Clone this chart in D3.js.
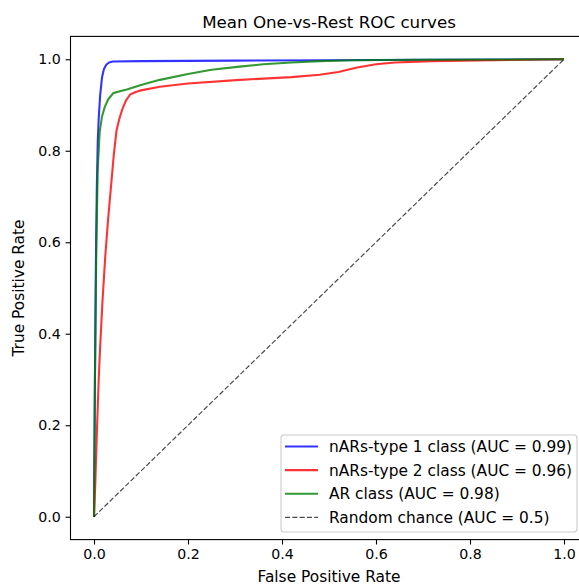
<!DOCTYPE html>
<meta charset="utf-8">
<script src="https://d3js.org/d3.v7.min.js"></script>
<style>
    body { margin: 0; background: white; }
    text { font-family: "DejaVu Sans", sans-serif; fill: black; }
</style>
<div id="my_dataviz"></div>
<script>
    // ---------------------------//
    //       DATA                 //
    // ---------------------------//
    var blueFpr = [0, 0.002, 0.004, 0.006, 0.008, 0.01, 0.013, 0.017, 0.021, 0.026, 0.032, 0.04, 0.1, 0.3, 0.5, 0.7, 1.0]
    var blueTpr = [0, 0.30, 0.55, 0.72, 0.82, 0.87, 0.92, 0.96, 0.978, 0.988, 0.993, 0.995, 0.996, 0.997, 0.998, 0.999, 1.0]

    var redFpr = [0, 0.003, 0.006, 0.01, 0.013, 0.018, 0.024, 0.03, 0.036, 0.042, 0.048, 0.054, 0.06, 0.068, 0.077, 0.09, 0.1, 0.14, 0.2, 0.31, 0.42, 0.48, 0.52, 0.56, 0.6, 0.64, 0.72, 0.85, 1.0]
    var redTpr = [0, 0.08, 0.18, 0.3, 0.37, 0.47, 0.57, 0.65, 0.72, 0.79, 0.845, 0.87, 0.89, 0.91, 0.923, 0.929, 0.932, 0.94, 0.947, 0.955, 0.961, 0.966, 0.972, 0.982, 0.989, 0.993, 0.996, 0.998, 1.0]

    var greenFpr = [0, 0.002, 0.005, 0.008, 0.012, 0.017, 0.023, 0.03, 0.041, 0.055, 0.07, 0.1, 0.14, 0.2, 0.25, 0.31, 0.36, 0.42, 0.48, 0.55, 0.7, 1.0]
    var greenTpr = [0, 0.3, 0.6, 0.76, 0.84, 0.875, 0.896, 0.912, 0.926, 0.93, 0.934, 0.944, 0.955, 0.968, 0.977, 0.984, 0.989, 0.993, 0.996, 0.998, 0.999, 1.0]

    var chanceFpr = [0, 1]
    var chanceTpr = [0, 1]

    var seriesNames = ["nARs-type 1 class (AUC = 0.99)", "nARs-type 2 class (AUC = 0.96)", "AR class (AUC = 0.98)", "Random chance (AUC = 0.5)"]
    var tickValues = [0.0, 0.2, 0.4, 0.6, 0.8, 1.0]

    // ---------------------------//
    //       LAYOUT               //
    // ---------------------------//
    var W = 579, H = 586
    var margin = { left: 70.5, right: 587.5, top: 36.4, bottom: 539.6 }

    var svg = d3.select("#my_dataviz")
        .append("svg")
        .attr("width", W)
        .attr("height", H)

    var x = d3.scaleLinear().domain([-0.05, 1.05]).range([margin.left, margin.right])
    var y = d3.scaleLinear().domain([-0.05, 1.05]).range([margin.bottom, margin.top])

    svg.append("clipPath").attr("id", "clip")
        .append("rect")
        .attr("x", margin.left).attr("y", margin.top)
        .attr("width", margin.right - margin.left).attr("height", margin.bottom - margin.top)

    // ---------------------------//
    //       AXES                 //
    // ---------------------------//
    var xAxis = svg.append("g")
        .attr("transform", "translate(0," + margin.bottom + ")")
        .call(d3.axisBottom(x).tickValues(tickValues).tickFormat(d3.format(".1f"))
            .tickSize(4.9).tickPadding(4.9).tickSizeOuter(0))
    var yAxis = svg.append("g")
        .attr("transform", "translate(" + margin.left + ",0)")
        .call(d3.axisLeft(y).tickValues(tickValues).tickFormat(d3.format(".1f"))
            .tickSize(4.9).tickPadding(4.9).tickSizeOuter(0))
    ;[xAxis, yAxis].forEach(function (g) {
        g.select(".domain").remove()
        g.selectAll(".tick line").attr("stroke", "black").attr("stroke-width", 1.1)
        g.selectAll(".tick text").style("font-size", "14.2px").style("font-family", "DejaVu Sans").attr("fill", "black")
    })

    // ---------------------------//
    //       LINES                //
    // ---------------------------//
    var line = d3.line()
        .x(function (d) { return x(d[0]) })
        .y(function (d) { return y(d[1]) })

    var series = [
        { fpr: blueFpr, tpr: blueTpr, color: "blue", width: 2.1, dash: null, opacity: 0.8 },
        { fpr: redFpr, tpr: redTpr, color: "red", width: 2.1, dash: null, opacity: 0.8 },
        { fpr: greenFpr, tpr: greenTpr, color: "green", width: 2.1, dash: null, opacity: 0.8 },
        { fpr: chanceFpr, tpr: chanceTpr, color: "black", width: 1.2, dash: "5.1,2.2", opacity: 0.7 }
    ]

    var plot = svg.append("g").attr("clip-path", "url(#clip)")
    series.forEach(function (s) {
        plot.append("path")
            .datum(d3.zip(s.fpr, s.tpr))
            .attr("d", line)
            .attr("fill", "none")
            .attr("stroke", s.color)
            .attr("stroke-opacity", s.opacity)
            .attr("stroke-width", s.width)
            .attr("stroke-dasharray", s.dash)
            .attr("stroke-linejoin", "round")
    })

    // spines
    svg.append("rect")
        .attr("x", margin.left).attr("y", margin.top)
        .attr("width", margin.right - margin.left).attr("height", margin.bottom - margin.top)
        .attr("fill", "none").attr("stroke", "black").attr("stroke-width", 1.1)

    // ---------------------------//
    //       TEXT                 //
    // ---------------------------//
    svg.append("text")
        .attr("x", (margin.left + margin.right) / 2)
        .attr("y", 28)
        .attr("text-anchor", "middle")
        .style("font-size", "16.7px")
        .text("Mean One-vs-Rest ROC curves")

    svg.append("text")
        .attr("x", (margin.left + margin.right) / 2)
        .attr("y", 582)
        .attr("text-anchor", "middle")
        .style("font-size", "15.4px")
        .text("False Positive Rate")

    svg.append("text")
        .attr("transform", "translate(24," + ((margin.top + margin.bottom) / 2) + ") rotate(-90)")
        .attr("text-anchor", "middle")
        .style("font-size", "15.4px")
        .text("True Positive Rate")

    // ---------------------------//
    //       LEGEND               //
    // ---------------------------//
    var legend = svg.append("g")
    legend.append("rect")
        .attr("x", 281).attr("y", 435)
        .attr("width", 296).attr("height", 97)
        .attr("rx", 3)
        .attr("fill", "white").attr("fill-opacity", 0.8)
        .attr("stroke", "#cccccc").attr("stroke-width", 1.1)

    seriesNames.forEach(function (name, i) {
        var s = series[i]
        var cy = 446.5 + i * 23.6
        legend.append("line")
            .attr("x1", 285).attr("x2", 318)
            .attr("y1", cy).attr("y2", cy)
            .attr("stroke", s.color)
            .attr("stroke-opacity", s.opacity)
            .attr("stroke-width", s.width)
            .attr("stroke-dasharray", s.dash)
        legend.append("text")
            .attr("x", 329)
            .attr("y", cy)
            .attr("dy", "0.36em")
            .style("font-size", "15.4px")
            .text(name)
    })
</script>
